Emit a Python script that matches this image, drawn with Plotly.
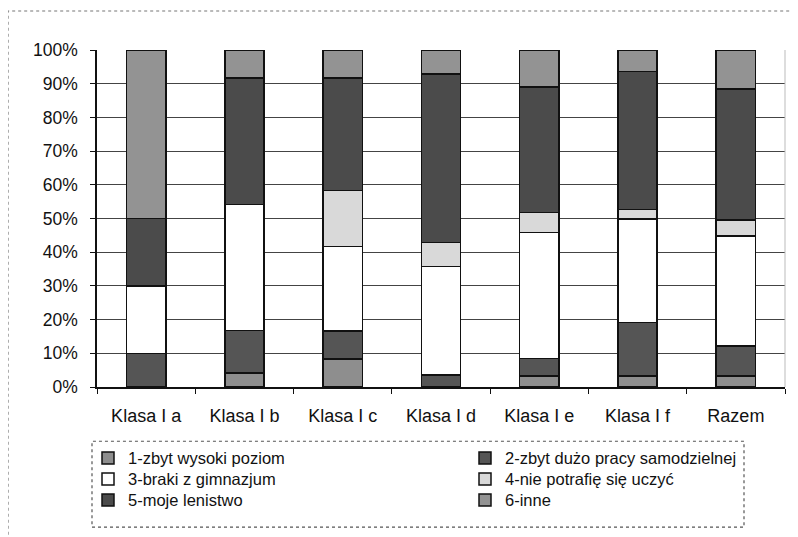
import plotly.graph_objects as go

categories = ["Klasa I a", "Klasa I b", "Klasa I c", "Klasa I d", "Klasa I e", "Klasa I f", "Razem"]
series_names = [
    "1-zbyt wysoki poziom",
    "2-zbyt dużo pracy samodzielnej",
    "3-braki z gimnazjum",
    "4-nie potrafię się uczyć",
    "5-moje lenistwo",
    "6-inne",
]
s1 = [0.0, 4.2, 8.3, 0.0, 3.3, 3.3, 3.3]
s2 = [10.0, 12.5, 8.3, 3.6, 5.2, 15.8, 8.9]
s3 = [20.0, 37.5, 25.0, 32.1, 37.3, 30.7, 32.6]
s4 = [0.0, 0.0, 16.7, 7.1, 6.0, 2.9, 4.8]
s5 = [20.0, 37.5, 33.3, 50.0, 37.2, 40.9, 38.8]
s6 = [50.0, 8.3, 8.3, 7.1, 11.0, 6.4, 11.6]
y_ticks = [0, 10, 20, 30, 40, 50, 60, 70, 80, 90, 100]
y_tick_labels = ["0%", "10%", "20%", "30%", "40%", "50%", "60%", "70%", "80%", "90%", "100%"]

series = [s1, s2, s3, s4, s5, s6]
colors = ["#8e8e8e", "#555555", "#ffffff", "#d9d9d9", "#4b4b4b", "#939393"]
legends = ["legend", "legend", "legend2", "legend2", "legend3", "legend3"]

FONT = "Liberation Sans, Arial, sans-serif"

# page offset (body margin)
OFF = 8
W, H = 790, 529
ml, mr, mt, mb = 89, 13, 41.5, 150.3
pw, ph = W - ml - mr, H - mt - mb


def px_x(x):
    return (x - OFF - ml) / pw


def px_y(y):
    return (H - mb - (y - OFF)) / ph


fig = go.Figure()
for i, (name, vals, col, lg) in enumerate(zip(series_names, series, colors, legends)):
    fig.add_trace(go.Bar(
        x=categories, y=vals, name=name,
        marker=dict(color=col, line=dict(color="#111111", width=1.5)),
        legend=lg,
        legendwidth=332 if i % 2 == 0 else None,
    ))

legend_common = dict(
    orientation="h", xanchor="left", yanchor="middle",
    bgcolor="rgba(0,0,0,0)", borderwidth=0,
    font=dict(family=FONT, size=16.5, color="#111111"),
    traceorder="normal",
)

fig.update_layout(
    width=W, height=H,
    margin=dict(l=ml, r=mr, t=mt, b=mb),
    barmode="stack",
    barnorm="percent",
    bargap=0.6,
    paper_bgcolor="white",
    plot_bgcolor="white",
    font=dict(family=FONT, size=17, color="#111111"),
    legend=dict(legend_common, x=px_x(88), y=px_y(458)),
    legend2=dict(legend_common, x=px_x(88), y=px_y(479)),
    legend3=dict(legend_common, x=px_x(88), y=px_y(500)),
    xaxis=dict(
        type="category",
        showline=True, linecolor="#111111", linewidth=1.5,
        ticks="outside", ticklen=5, tickcolor="#111111", tickson="boundaries",
        showgrid=False,
        ticklabelstandoff=12,
        tickfont=dict(size=18),
    ),
    yaxis=dict(
        range=[0, 100],
        tickvals=y_ticks,
        ticktext=y_tick_labels,
        showline=True, linecolor="#111111", linewidth=1.5,
        ticks="outside", ticklen=5, tickcolor="#111111",
        showgrid=True, gridcolor="#444444", gridwidth=1,
        zeroline=False,
        ticklabelstandoff=9,
        tickfont=dict(size=17.5),
    ),
    shapes=[
        dict(type="rect", xref="paper", yref="paper",
             x0=px_x(92), x1=px_x(744), y0=px_y(527), y1=px_y(441),
             line=dict(color="#555555", width=1.2, dash="dot")),
        dict(type="rect", xref="paper", yref="paper",
             x0=px_x(8), x1=px_x(820), y0=px_y(560), y1=px_y(10.5),
             line=dict(color="#777777", width=1.2, dash="dot")),
        dict(type="line", xref="paper", yref="paper",
             x0=1, x1=1, y0=0, y1=1,
             line=dict(color="#bbbbbb", width=1)),
    ],
)

fig.write_html("out.html")
